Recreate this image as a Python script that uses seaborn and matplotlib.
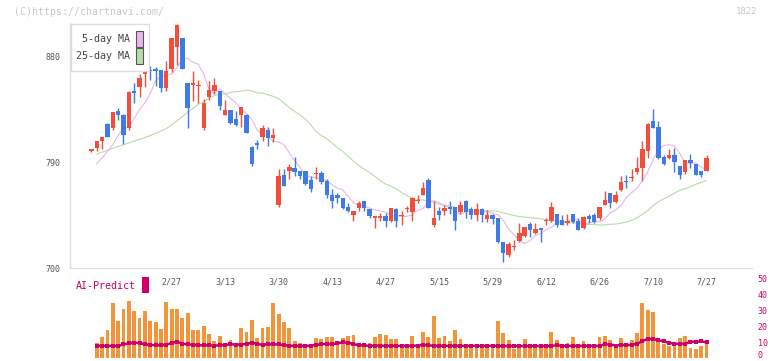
import numpy as np
import pandas as pd
import matplotlib.pyplot as plt
import matplotlib.patches as mpatches
import matplotlib.transforms as mtransforms
import seaborn as sns

# daily candles, index 0..115
opens = [800, 802, 808, 823, 819, 834, 830, 819, 851, 854, 865, 869, 870, 869, 853, 870, 888, 896, 858, 856,
         855, 819, 846, 851, 851, 830, 835, 827, 830, 830, 803, 806.5, 812, 818, 811, 754, 779, 783, 785, 783,
         783, 775, 780, 781, 774, 762, 762, 760, 752, 745, 751, 757, 750, 743, 743, 744, 740, 750, 744, 750,
         748, 757, 762, 775, 737, 749, 749, 752, 752, 748, 757, 750, 745, 750, 742, 745, 743, 722, 711, 718,
         723, 727, 737.6, 730, 734, 740, 740, 746, 741, 738, 746, 740, 734.4, 744, 745, 742.4, 754, 764, 756, 766.5,
         774, 776.4, 782, 785, 800, 825, 820.4, 794.8, 794, 796.3, 786.7, 782, 792, 788.6, 782.7, 782.7]
highs = [801, 808, 812, 824, 833, 836, 831, 851, 858, 865, 878, 872, 871, 869, 876, 896, 908, 896, 858, 868,
         860, 844, 859, 862, 851, 843, 835, 834, 837, 831, 804, 809, 822, 820, 819, 784, 784, 789, 795, 783,
         783, 778, 786, 783, 776, 767, 764, 760, 755, 749, 757, 757, 750, 744, 747, 747, 751, 751, 749, 753,
         760.5, 762, 773, 777, 757, 752, 754, 757, 752, 757, 758, 752, 755, 751, 749.5, 746, 743, 722, 722.5, 724,
         738, 735, 739.5, 738, 734, 743, 756.5, 746, 745, 746, 746, 743, 744, 746, 747, 752, 766, 764, 766, 778,
         779, 784, 795, 808.5, 823.3, 835.5, 825, 796, 801.4, 802.5, 787, 792, 797, 789, 783, 796.3]
lows = [799, 800, 801, 812, 818, 826, 806, 818, 841, 846, 854, 860, 855, 850, 851, 867, 873, 870, 819, 842,
        841, 818, 843, 848, 835, 830, 823, 821, 820, 815, 787, 801, 808, 804, 807, 752, 770, 776, 778, 776,
        771, 765, 776, 772, 760, 751, 755, 750, 748, 740, 749, 749, 743, 734, 740, 735, 739, 735, 737, 748,
        740, 755, 762, 751, 735, 741, 745, 746, 732, 746, 743, 742, 740, 739, 739.5, 737.6, 721, 705, 709.7, 715,
        722.5, 726, 726.7, 729, 722.5, 737, 739.5, 735, 737, 737, 738, 732, 733, 738, 738, 741, 754, 751, 755.7, 766,
        768, 774, 780, 774, 793.5, 819, 793, 788, 793, 782, 776, 780, 785.5, 779, 777.3, 782.7]
closes = [801, 808, 812, 812, 833, 830, 813, 850, 849, 862, 870, 868, 868, 853, 868, 896, 907, 870, 836, 858,
          856, 841, 852, 856, 838, 835, 824, 822, 837, 815, 789, 805, 819, 811, 813, 778, 770, 786, 782, 778,
          772, 767, 781, 773, 762, 757, 760, 751, 749, 749, 755, 751, 744, 744, 744, 740, 751, 740, 745, 750.5,
          760, 757.5, 768, 751, 743, 745, 751, 750, 740, 754, 748, 745, 750, 745, 745, 742, 722, 712.5, 720.5, 719,
          730, 735, 732, 733, 732.5, 741, 752, 737, 737, 740, 739.5, 732.4, 743.5, 742, 739.5, 752, 758, 755, 762, 773,
          773, 777.8, 785.5, 801, 822.7, 819.6, 793.5, 788.4, 796.3, 790.6, 779, 791.8, 789.7, 779.3, 779.3, 793.5]

# moving averages read off the chart where the earlier history is not shown
ma5_head = [789, 793.7, 799.5, 805]  # days 1..4
ma25_head = [797.1, 798.7, 800.3, 802, 803.7, 805.1, 806.6, 808.1, 809.6, 811.2, 812.9, 814.8,
             816.8, 818.8, 822, 825.5, 829, 832.5, 836, 839.5, 842, 844.5, 847, 848.5]  # days 1..24

# lower panel, days 1..115
volume = [9.6, 13.3, 17.5, 34.6, 23.1, 30.8, 35.8, 29.6, 25.2, 29.6,
          23.1, 22.5, 18.3, 35.2, 30.8, 30.8, 25.2, 28.1, 17.5, 17.5,
          20, 15, 10.8, 13.9, 8.1, 11.2, 8.9, 18.9, 16.5, 23.8,
          12.7, 18.9, 19.6, 34.6, 27.7, 22.7, 18.9, 10.8, 9.4, 8.6,
          8.6, 12.7, 11.9, 13.1, 13.1, 9.2, 12.7, 13.9, 14.4, 8.1,
          8.1, 9.2, 13.1, 15, 14.4, 11.9, 11.9, 8.1, 8.1, 13.9,
          8.8, 16.5, 12.9, 26.3, 12.7, 13.9, 10.6, 17.5, 11.9, 8.1,
          8.1, 8.1, 8.1, 8.1, 8.8, 23.1, 15.6, 11.2, 5.6, 6,
          11.9, 8.8, 6, 8.8, 8, 16.5, 11.2, 7.1, 9.6, 13.3,
          7.1, 10.4, 8.8, 8.1, 13.3, 13.9, 11.2, 7.1, 12.7, 9.6,
          11.2, 15.9, 34.6, 30, 28.8, 12.7, 8.8, 7.7, 9.6, 12.7,
          13.9, 6.5, 5.6, 7.7, 10.4]
ai_predict = [7.5, 7.8, 7.5, 7.6, 7.5, 8.5, 9.2, 9.6, 9.4, 8.5,
              8.2, 8.0, 8.0, 8.3, 9.4, 10.2, 9.0, 8.5, 8.3, 8.0,
              7.9, 7.9, 7.8, 7.9, 8.2, 8.6, 8.4, 8.4, 8.8, 9.6,
              8.8, 8.2, 8.6, 8.6, 8.5, 8.0, 7.7, 7.6, 7.5, 7.6,
              7.7, 8.2, 8.6, 8.9, 8.7, 9.2, 9.8, 9.6, 8.7, 8.0,
              7.9, 7.6, 7.8, 7.8, 7.6, 7.6, 7.6, 7.6, 7.6, 7.6,
              7.8, 8.2, 8.0, 7.6, 7.6, 7.6, 7.6, 7.6, 7.6, 7.6,
              7.6, 7.6, 7.6, 7.6, 7.6, 7.5, 7.5, 7.5, 7.5, 7.5,
              7.5, 7.5, 7.5, 7.5, 7.5, 7.5, 8.0, 7.6, 7.6, 7.6,
              7.6, 7.6, 7.6, 7.6, 7.6, 8.6, 8.4, 7.8, 8.2, 8.0,
              8.3, 9.0, 10.4, 12.0, 11.8, 11.2, 10.4, 9.4, 9.0, 8.8,
              8.8, 10.2, 10.2, 10.4, 9.8]

date_labels = ['2/27', '3/13', '3/30', '4/13', '4/27', '5/15', '5/29', '6/12', '6/26', '7/10', '7/27']
date_pos = [15, 25, 35, 45, 55, 65, 75, 85, 95, 105, 115]
price_ticks = [700, 790, 880]
vol_ticks = [0, 10, 20, 30, 40, 50]

UP = '#f24e3c'
DOWN = '#3f7ae6'
MA5_C = '#e8b6ec'
MA25_C = '#b6dcaa'
AI_C = '#cc0066'
GRID = '#dddddd'

sns.set_style('white')
plt.rcParams['font.family'] = ['DejaVu Sans Mono']

W, H = 772, 361
fig = plt.figure(figsize=(W / 100, H / 100), dpi=100)


def fx(x):
    return x / W


def fy(y):
    return 1 - y / H


ax = fig.add_axes([fx(70), fy(268), fx(752 - 70), (268 - 23) / H])
axv = fig.add_axes([fx(70), fy(358), fx(752 - 70), (358 - 275) / H])

n = len(closes)
idx = np.arange(n)
o = np.array(opens)
c = np.array(closes)
hi = np.array(highs)
lo = np.array(lows)

cs = pd.Series(closes)
ma5 = cs.rolling(5).mean().shift(1)
ma25 = cs.rolling(25).mean().shift(1)
ma5.iloc[1:5] = ma5_head
ma25.iloc[1:25] = ma25_head
df = pd.DataFrame({'day': idx, 'ma5': ma5, 'ma25': ma25})

sns.lineplot(data=df, x='day', y='ma25', ax=ax, color=MA25_C, lw=0.8, zorder=2)
sns.lineplot(data=df, x='day', y='ma5', ax=ax, color=MA5_C, lw=0.8, zorder=2)

up = c >= o
cols = np.where(up, UP, DOWN)
ax.vlines(idx, lo, hi, colors=cols, lw=1.0, zorder=3)
ax.bar(idx, np.maximum(np.abs(c - o), 1.0), bottom=np.minimum(o, c), width=0.82,
       color=cols, zorder=4, linewidth=0)

xmin, xmax = -4.0, 123.5
ax.set_xlim(xmin, xmax)
ax.set_ylim(700, 908.8)
ax.set_xticks(np.linspace(xmin, xmax, 12))
ax.set_xticklabels([])
ax.set_yticks(price_ticks)
ax.set_yticklabels([str(t) for t in price_ticks], fontsize=6, color='#555555')
ax.tick_params(axis='x', direction='inout', length=9, width=1, color=GRID)
ax.tick_params(axis='y', direction='inout', length=8, width=1, color=GRID, pad=3)
ax.set_xlabel('')
ax.set_ylabel('')
for s in ['top', 'right']:
    ax.spines[s].set_visible(False)
for s in ['left', 'bottom']:
    ax.spines[s].set_color(GRID)
    ax.spines[s].set_linewidth(1)

# volume panel
vdf = pd.DataFrame({'day': idx[1:], 'vol': volume, 'ai': ai_predict})
axv.bar(vdf['day'], vdf['vol'], width=0.72, color='#f0953c', linewidth=0)
sns.lineplot(data=vdf, x='day', y='ai', ax=axv, color=AI_C, lw=1.8,
             marker='s', markersize=2.6, markeredgewidth=0)
axv.set_xlim(xmin, xmax)
axv.set_ylim(0, 51.9)
axv.yaxis.tick_right()
axv.set_yticks(vol_ticks)
axv.set_yticklabels([str(t) for t in vol_ticks], fontsize=6, color=AI_C)
axv.tick_params(axis='y', length=0, pad=4)
lift = mtransforms.ScaledTranslation(0, 2.5 / 72, fig.dpi_scale_trans)
zero_lab = axv.get_yticklabels()[0]
zero_lab.set_transform(zero_lab.get_transform() + lift)
axv.set_xticks([])
axv.set_xlabel('')
axv.set_ylabel('')
for s in axv.spines.values():
    s.set_visible(False)

for p, lab in zip(date_pos, date_labels):
    axv.text(p, 47.7, lab, ha='center', va='center', fontsize=6, color='#555555')

fig.text(fx(76), fy(286), 'AI-Predict', fontsize=7.2, color=AI_C, va='center', ha='left')
fig.patches.append(mpatches.Rectangle((fx(142), fy(293)), fx(7), 16 / H,
                                      transform=fig.transFigure, color=AI_C, lw=0))

# legend box
fig.patches.append(mpatches.Rectangle((fx(70.5), fy(71)), fx(78), 47 / H, transform=fig.transFigure,
                                      facecolor='white', edgecolor=GRID, lw=1, zorder=5))
for yy, lab, colr in [(39, '5-day MA', MA5_C), (56, '25-day MA', MA25_C)]:
    fig.text(fx(130), fy(yy), lab, fontsize=7.2, color='#444444', ha='right', va='center', zorder=6)
    fig.patches.append(mpatches.Rectangle((fx(136), fy(yy + 7.5)), fx(6.5), 15 / H,
                                          transform=fig.transFigure, facecolor=colr,
                                          edgecolor='#555555', lw=0.8, zorder=6))

fig.text(fx(14), fy(12), '(C)https://chartnavi.com/', fontsize=7.1, color='#c8c8c8', va='center')
fig.text(fx(757), fy(12), '1822', fontsize=6.5, color='#c8c8c8', va='center', ha='right')

fig.savefig('out.png', dpi=100)
